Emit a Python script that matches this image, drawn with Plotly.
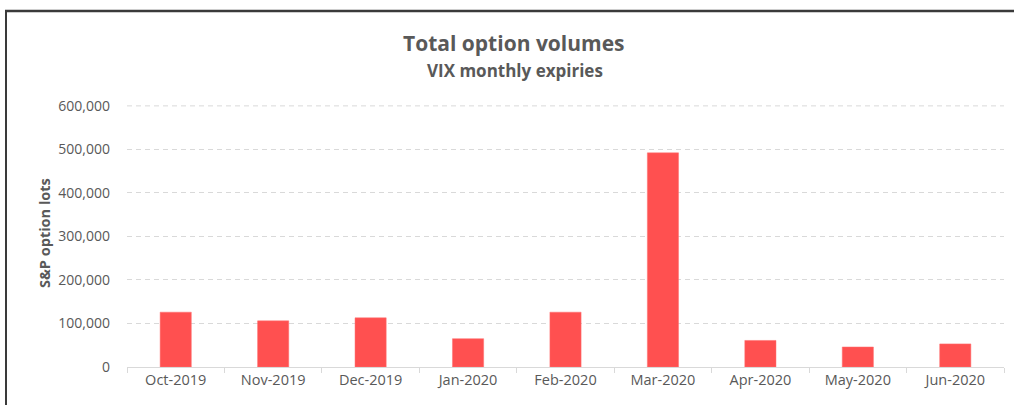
import plotly.graph_objects as go

categories = ["Oct-2019", "Nov-2019", "Dec-2019", "Jan-2020", "Feb-2020",
              "Mar-2020", "Apr-2020", "May-2020", "Jun-2020"]
volumes = [126000, 106000, 113000, 65000, 126000, 492000, 61000, 46000, 53000]
y_ticks = [0, 100000, 200000, 300000, 400000, 500000, 600000]

TXT = "#595959"
GRID = "#d9d9d9"
FONT = "'Open Sans', sans-serif"

W, H = 1014, 405
ML, MR, MT, MB = 127, 10, 105, 38
pw = W - ML - MR
ph = H - MT - MB

def px_x(p):
    return (p - ML) / pw

def px_y(p):
    return (H - MB - p) / ph

fig = go.Figure(go.Bar(
    x=categories, y=volumes,
    marker=dict(color="#FF5050", line=dict(color="#FF7070", width=0.5)),
    hoverinfo="x+y",
))

# top gridline (Plotly suppresses gridlines on the plot-area edge)
top_grid = dict(type="line", xref="paper", yref="y", layer="below",
                x0=0, x1=1, y0=y_ticks[-1], y1=y_ticks[-1],
                line=dict(color=GRID, width=1, dash="5px,4px"))

fig.update_layout(
    width=W, height=H,
    margin=dict(l=ML, r=MR, t=MT, b=MB),
    paper_bgcolor="white", plot_bgcolor="white",
    bargap=0.68,
    showlegend=False,
    font=dict(family=FONT, color=TXT, size=14),
    xaxis=dict(
        type="category",
        showline=True, linecolor=GRID, linewidth=1,
        ticks="outside", ticklen=5, tickcolor=GRID, tickson="boundaries",
        showgrid=False,
        tickfont=dict(family=FONT, size=14.5, color=TXT),
    ),
    yaxis=dict(
        range=[0, 602000],
        tickvals=y_ticks, tickformat=",",
        showgrid=True, gridcolor=GRID, gridwidth=1, griddash="5px,4px",
        zeroline=False, showline=False,
        ticks="", ticklabelstandoff=16,
        tickfont=dict(family=FONT, size=14, color=TXT),
    ),
    annotations=[
        dict(text="<b>Total option volumes</b>",
             xref="paper", yref="paper", x=px_x(514), y=px_y(43),
             xanchor="center", yanchor="middle", showarrow=False,
             font=dict(family=FONT, size=21, color=TXT)),
        dict(text="<b>VIX monthly expiries</b>",
             xref="paper", yref="paper", x=px_x(515), y=px_y(71),
             xanchor="center", yanchor="middle", showarrow=False,
             font=dict(family=FONT, size=17, color=TXT)),
        dict(text="<b>S&P option lots</b>", textangle=-90,
             xref="paper", yref="paper",
             x=px_x(44), y=px_y(233), xanchor="center", yanchor="middle",
             showarrow=False, font=dict(family=FONT, size=14.5, color=TXT)),
    ],
    shapes=[
        top_grid,
        dict(type="line", xref="paper", yref="paper",
             x0=px_x(5), x1=px_x(W + 2), y0=px_y(11), y1=px_y(11),
             line=dict(color="#3a3a3a", width=2.5)),
        dict(type="line", xref="paper", yref="paper",
             x0=px_x(6), x1=px_x(6), y0=px_y(11), y1=px_y(H + 2),
             line=dict(color="#3a3a3a", width=2)),
    ],
)

fig.write_html("out.html",
               config={"displayModeBar": False},
               post_script="document.body.style.margin='0';document.body.style.overflow='hidden';")
